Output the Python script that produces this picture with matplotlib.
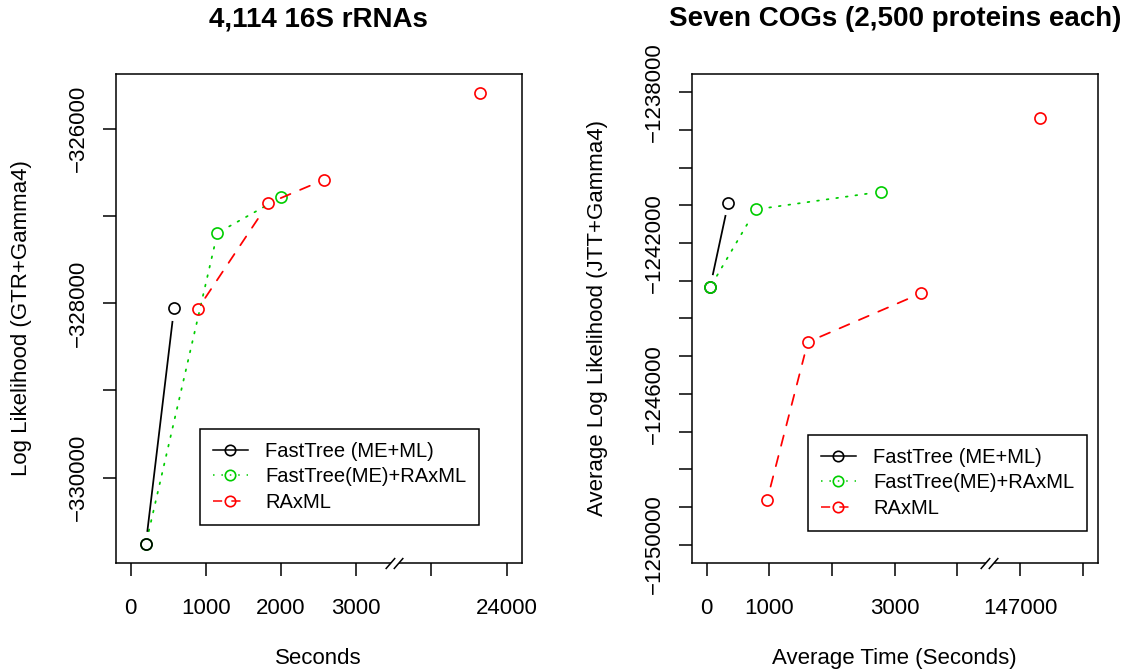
import matplotlib
matplotlib.use("Agg")
import matplotlib.pyplot as plt
import numpy as np
from matplotlib.path import Path
from matplotlib.lines import Line2D

plt.rcParams['font.family'] = ['Liberation Sans', 'DejaVu Sans']

# ---- data: 16S rRNA panel (seconds, log likelihood) ----
rrna_ft_sec = [200, 576]
rrna_ft_ll = [-330765, -328061]
rrna_ftrax_sec = [200, 1153, 2000]
rrna_ftrax_ll = [-330765, -327197, -326787]
rrna_rax_sec = [891, 1829, 2572, 23640]
rrna_rax_ll = [-328069, -326857, -326586, -325587]

rrna_xticks = [0, 1000, 2000, 3000, 23000, 24000]
rrna_xlabels = ['0', '1000', '2000', '3000', '', '24000']
rrna_yticks = [-330000, -329000, -328000, -327000, -326000]
rrna_ylabels = ['\u2212330000', '', '\u2212328000', '', '\u2212326000']

# ---- data: COG panel (average seconds, average log likelihood) ----
cog_ft_sec = [53, 344]
cog_ft_ll = [-1243177, -1240927]
cog_ftrax_sec = [53, 785, 2787]
cog_ftrax_ll = [-1243177, -1241105, -1240636]
cog_rax_sec = [965, 1613, 3424, 147323]
cog_rax_ll = [-1248807, -1244625, -1243328, -1238678]

cog_xticks = [0, 1000, 2000, 3000, 4000, 147000, 148000]
cog_xlabels = ['0', '1000', '', '3000', '', '147000', '']
cog_yticks = list(range(-1250000, -1237999, 1000))
cog_ylabels = ['\u2212%d' % -v if (v + 1250000) % 4000 == 0 else '' for v in cog_yticks]

labels = ['FastTree (ME+ML)', 'FastTree(ME)+RAxML', 'RAxML']
colors = ['black', '#00CD00', '#FF0000']
styles = ['-', (0, (1, 4.5)), (0, (6, 6))]

LW = 1.1
MS = 8
GAP = 13.5  # px gap between line ends and points (R type="b")


def to_pos(x, brk, shift):
    x = np.asarray(x, dtype=float)
    return np.where(x > brk, x - shift, x)


def gapped_line(ax, xs, ys, color, ls, z):
    pts = ax.transData.transform(np.column_stack([xs, ys]))
    inv = ax.transData.inverted()
    for p, q in zip(pts[:-1], pts[1:]):
        d = q - p
        L = np.hypot(*d)
        if L <= 2 * GAP:
            continue
        u = d / L
        seg = inv.transform(np.array([p + u * GAP, q - u * GAP]))
        ax.plot(seg[:, 0], seg[:, 1], color=color, ls=ls, lw=LW * 1.15,
                dash_capstyle='round', zorder=z)


slash = Path([(-8.8, -5.5), (0.7, 5.5), (-0.7, -5.5), (8.8, 5.5)],
             [Path.MOVETO, Path.LINETO, Path.MOVETO, Path.LINETO])
gap_fill = Path([(-8.8, -5.5), (-0.7, -5.5), (8.8, 5.5), (0.7, 5.5), (-8.8, -5.5)],
                [Path.MOVETO, Path.LINETO, Path.LINETO, Path.LINETO, Path.CLOSEPOLY])


def panel(ax, series, brk, shift, xlim, ylim, xticks, xlabels, yticks, ylabels,
          title, xlabel, ylabel, anchor, zorders):
    ax.set_xlim(xlim)
    ax.set_ylim(ylim)
    for (xs, ys), color, ls, z in zip(series, colors, styles, zorders):
        pos = to_pos(xs, brk, shift)
        ys = np.asarray(ys, dtype=float)
        inner = pos < brk
        gapped_line(ax, pos[inner], ys[inner], color, ls, z)
        ax.plot(pos, ys, 'o', ms=MS, mfc='none', mec=color, mew=1.2,
                ls='none', zorder=z + 0.5)

    ax.set_xticks(to_pos(xticks, brk, shift))
    ax.set_xticklabels(xlabels, fontsize=16)
    ax.set_yticks(yticks)
    ax.set_yticklabels(ylabels, fontsize=16, rotation=90, va='center')
    ax.tick_params(axis='x', length=9.7, width=LW, pad=15.5)
    ax.tick_params(axis='y', length=9.7, width=LW, pad=9.5)
    for s in ax.spines.values():
        s.set_linewidth(LW)

    ax.set_title(title, fontsize=20, fontweight='bold', y=1.113, pad=0, va='center')
    ax.set_xlabel(xlabel, fontsize=16)
    ax.xaxis.set_label_coords(0.5, -0.197)
    ax.xaxis.label.set_va('center')
    ax.set_ylabel(ylabel, fontsize=16)
    ax.yaxis.set_label_coords(-0.232, 0.5)
    ax.yaxis.label.set_va('center')

    # axis break marks
    tr = ax.get_xaxis_transform()
    ax.plot([brk], [0], marker=gap_fill, ms=12.7, mfc='white', mec='none',
            transform=tr, clip_on=False, zorder=6)
    ax.plot([brk], [0], marker=slash, ms=12.7, mfc='none', mec='black', mew=LW,
            transform=tr, clip_on=False, zorder=7)

    handles = [Line2D([], [], color=c, ls=s, lw=LW, marker='o', ms=7.5,
                      mfc='none', mew=1.2) for c, s in zip(colors, styles)]
    leg = ax.legend(handles, labels, loc='lower right', bbox_to_anchor=anchor,
                    borderaxespad=0, fancybox=False, edgecolor='black',
                    framealpha=1, handlelength=1.75, handletextpad=0.85,
                    borderpad=0.65, labelspacing=0.32, fontsize=14.5)
    leg.get_frame().set_linewidth(LW)


fig = plt.figure(figsize=(11.24, 6.72), dpi=100)
ax1 = fig.add_axes([115.7 / 1124, 1 - 562.7 / 672, 406 / 1124, 488.4 / 672])
ax2 = fig.add_axes([691.7 / 1124, 1 - 562.7 / 672, 406 / 1124, 488.4 / 672])

panel(ax1,
      [(rrna_ft_sec, rrna_ft_ll), (rrna_ftrax_sec, rrna_ftrax_ll), (rrna_rax_sec, rrna_rax_ll)],
      3500, 19000, (-200, 5200), (-330975, -325378),
      rrna_xticks, rrna_xlabels, rrna_yticks, rrna_ylabels,
      '4,114 16S rRNAs', 'Seconds', 'Log Likelihood (GTR+Gamma4)',
      (0.8956, 0.0772), [4, 2, 3])

panel(ax2,
      [(cog_ft_sec, cog_ft_ll), (cog_ftrax_sec, cog_ftrax_ll), (cog_rax_sec, cog_rax_ll)],
      4500, 142000, (-240, 6240), (-1250480, -1237520),
      cog_xticks, cog_xlabels, cog_yticks, cog_ylabels,
      'Seven COGs (2,500 proteins each)', 'Average Time (Seconds)',
      'Average Log Likelihood (JTT+Gamma4)',
      (0.9744, 0.0655), [2, 3, 4])

fig.savefig('out.png', dpi=100)
